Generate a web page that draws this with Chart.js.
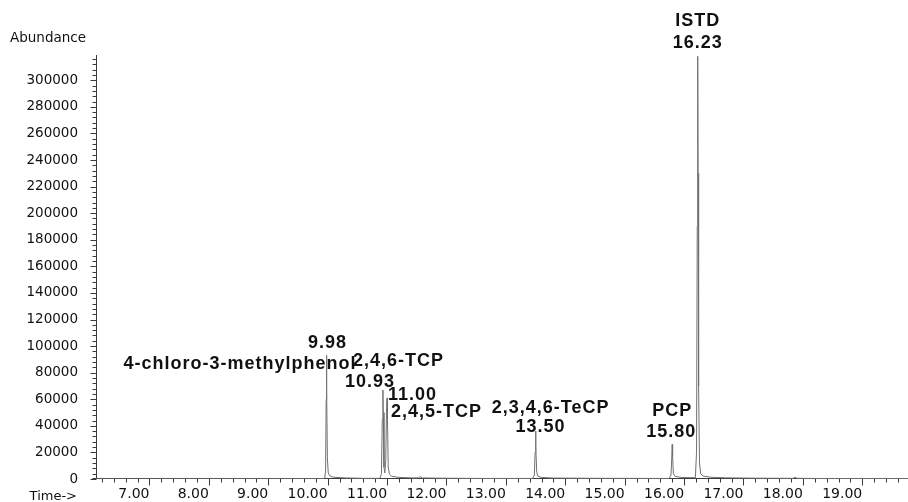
<!DOCTYPE html>
<html>
<head>
<meta charset="utf-8">
<script src="https://cdn.jsdelivr.net/npm/chart.js@4"></script>
<style>
  html, body { margin: 0; padding: 0; background: #fff; }
  #wrap { width: 908px; height: 502px; position: relative; }
</style>
</head>
<body>
<div id="wrap"><canvas id="chart"></canvas></div>
<script>
// Trace: retention time (min) and abundance
const times = [
  6.10, 9.90, 9.95, 9.965, 9.975, 9.98, 9.985, 9.995, 10.01, 10.04, 10.10, 10.30, 10.60,
  10.88, 10.905, 10.92, 10.93, 10.937, 10.948, 10.962, 10.978, 10.99, 11.00, 11.007, 11.02,
  11.04, 11.08, 11.20, 11.45, 11.53, 11.56, 11.59, 11.90, 12.60,
  13.45, 13.48, 13.492, 13.50, 13.507, 13.52, 13.54, 13.60, 13.80, 14.50,
  15.75, 15.78, 15.792, 15.80, 15.807, 15.82, 15.85, 15.95, 16.10,
  16.19, 16.21, 16.222, 16.23, 16.236, 16.245, 16.26, 16.28, 16.32, 16.45, 16.70, 17.20,
  17.84, 17.87, 17.90, 18.50, 19.77
];
const abundance = [
  0, 200, 600, 6000, 60000, 93000, 68000, 16000, 4500, 2200, 1300, 800, 500,
  500, 4000, 45000, 67000, 50000, 9000, 4500, 14000, 50000, 61000, 45000, 9000,
  3500, 2000, 1200, 800, 900, 1700, 800, 600, 400,
  400, 3000, 20000, 36000, 24000, 5000, 2000, 1200, 700, 500,
  400, 3000, 15000, 26000, 17000, 4000, 2000, 1200, 1000,
  1000, 20000, 190000, 318000, 230000, 70000, 12000, 4000, 2200, 1300, 900, 600,
  500, 1300, 500, 300, 300
];

// Labelled peaks
const peakNames = ['4-chloro-3-methylphenol', '2,4,6-TCP', '2,4,5-TCP', '2,3,4,6-TeCP', 'PCP', 'ISTD'];
const peakTimes = [9.98, 10.93, 11.00, 13.50, 15.80, 16.23];
const peakHeights = [93000, 67000, 61000, 36000, 26000, 318000];

// Axis ranges and tick steps (labelled step / minor step)
const xMin = 6.1, xMax = 19.77, xLabelStep = 1, xMinorStep = 0.2;
const yMin = 0, yMax = 319000, yLabelStep = 20000, yMinorStep = 4000;

// where each label sits relative to its peak apex (px): [dx, dy, align] for time and name
const labelSpots = [
  { time: [1, -12, 'center'],  name: [30, 9, 'right'] },
  { time: [-13, -8, 'center'], name: [-30, -29, 'left'] },
  { time: [1, -3, 'left'],     name: [4, 14, 'left'] },
  { time: [5, -4, 'center'],   name: [15, -23, 'center'] },
  { time: [-1, -12, 'center'], name: [0, -33, 'center'] },
  { time: [0, -13, 'center'],  name: [0, -35, 'center'] }
];

const axisColor = '#3a3a3a';
const textColor = '#111';
const tickFamily = "'DejaVu Sans', sans-serif";
const near = (a, b) => Math.abs(a - b) < 1e-6;

const chromPlugin = {
  id: 'chrom',
  beforeDatasetsDraw(chart) {
    const { ctx, chartArea: a, scales: { x, y } } = chart;
    const ax = Math.round(a.left) + 0.5;
    const ay = Math.round(a.bottom) - 0.5;
    ctx.save();
    ctx.strokeStyle = axisColor;
    ctx.lineWidth = 1;
    ctx.beginPath();
    ctx.moveTo(ax, Math.round(a.top));
    ctx.lineTo(ax, ay);
    ctx.moveTo(ax - 4, ay);
    ctx.lineTo(a.right, ay);
    // minor + major ticks, x below the axis, y to the left
    for (let k = Math.ceil(xMin / xMinorStep - 1e-9); k * xMinorStep <= xMax + 1e-9; k++) {
      const v = k * xMinorStep;
      const px = Math.round(x.getPixelForValue(v)) + 0.5;
      ctx.moveTo(px, ay);
      ctx.lineTo(px, ay + (near(v / xLabelStep, Math.round(v / xLabelStep)) ? 7 : 4));
    }
    for (let v = yMin; v <= yMax; v += yMinorStep) {
      const py = Math.round(y.getPixelForValue(v)) + 0.5;
      ctx.moveTo(ax, py);
      ctx.lineTo(ax - (v % yLabelStep === 0 ? 6 : 4), py);
    }
    ctx.stroke();
    ctx.restore();
  },
  afterDraw(chart) {
    const { ctx, scales: { x, y } } = chart;
    ctx.save();
    ctx.fillStyle = textColor;
    ctx.font = '13.5px "DejaVu Sans", sans-serif';
    ctx.textAlign = 'left';
    ctx.textBaseline = 'alphabetic';
    ctx.fillText('Abundance', 10, 42);
    ctx.font = '13px "DejaVu Sans", sans-serif';
    ctx.textAlign = 'right';
    ctx.fillText('Time->', 77, 500);

    ctx.font = 'bold 18px "Liberation Sans", Arial, sans-serif';
    ctx.letterSpacing = '1px';
    ctx.textBaseline = 'middle';
    peakNames.forEach((name, i) => {
      const px = x.getPixelForValue(peakTimes[i]);
      const py = y.getPixelForValue(peakHeights[i]);
      const spot = labelSpots[i];
      ctx.textAlign = spot.time[2];
      ctx.fillText(peakTimes[i].toFixed(2), px + spot.time[0], py + spot.time[1]);
      ctx.textAlign = spot.name[2];
      ctx.fillText(name, px + spot.name[0], py + spot.name[1]);
    });
    ctx.restore();
  }
};

new Chart(document.getElementById('chart'), {
  type: 'line',
  data: {
    datasets: [{
      data: times.map((t, i) => ({ x: t, y: abundance[i] })),
      borderColor: '#707070',
      borderWidth: 1,
      pointRadius: 0,
      tension: 0,
      fill: false
    }]
  },
  options: {
    responsive: true,
    maintainAspectRatio: false,
    animation: false,
    layout: { padding: { top: 55, right: 0, bottom: 0, left: 0 } },
    plugins: { legend: { display: false }, tooltip: { enabled: false } },
    scales: {
      x: {
        type: 'linear',
        min: xMin,
        max: xMax,
        grid: { display: false, drawTicks: true, tickLength: 7 },
        border: { display: false },
        ticks: {
          stepSize: xLabelStep,
          includeBounds: false,
          autoSkip: false,
          maxRotation: 0,
          align: 'end',
          padding: 0,
          color: textColor,
          font: { family: tickFamily, size: 14 },
          callback: v => v.toFixed(2)
        },
        afterFit: s => { s.height = 23; }
      },
      y: {
        min: yMin,
        max: yMax,
        grid: { display: false, drawTicks: true, tickLength: 18 },
        border: { display: false },
        ticks: {
          autoSkip: false,
          padding: 0,
          color: textColor,
          font: { family: tickFamily, size: 13.5 },
          callback: v => String(v)
        },
        // labelled ticks every yLabelStep (Chart.js would stretch the step to fit max)
        afterBuildTicks: s => {
          const ticks = [];
          for (let v = yMin; v <= yMax; v += yLabelStep) ticks.push({ value: v });
          s.ticks = ticks;
        },
        afterFit: s => { s.width = 96; }
      }
    }
  },
  plugins: [chromPlugin]
});
</script>
</body>
</html>
